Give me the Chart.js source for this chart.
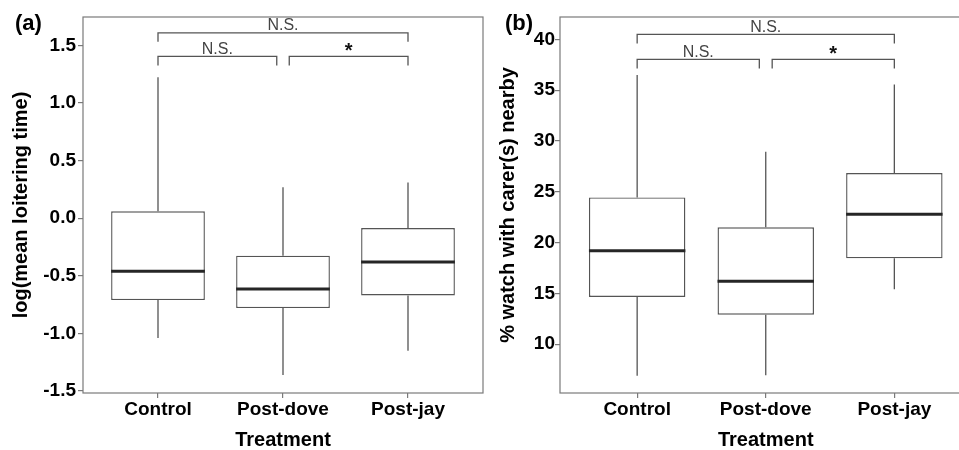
<!DOCTYPE html>
<html lang="en">
<head>
<meta charset="UTF-8">
<title>Loitering time and carer presence by treatment</title>
<script src="https://cdn.jsdelivr.net/npm/chart.js"></script>
<style>
    html, body { margin: 0; padding: 0; background: #fff; overflow: hidden; }
    body { width: 959px; height: 450px; position: relative; }
    #wrapA { position: absolute; left: 0; top: 0; width: 490px; height: 450px; }
    #wrapB { position: absolute; left: 479px; top: 0; width: 500px; height: 450px; }
</style>
</head>
<body>
<div id="wrapA"><canvas id="chartA"></canvas></div>
<div id="wrapB"><canvas id="chartB"></canvas></div>

<script>
    const treatments = ['Control', 'Post-dove', 'Post-jay'];

    // (a) log(mean loitering time)
    const loiterLow = [-1.04, -1.36, -1.15];
    const loiterQ1 = [-0.71, -0.78, -0.67];
    const loiterMedian = [-0.46, -0.615, -0.38];
    const loiterQ3 = [0.06, -0.325, -0.085];
    const loiterHigh = [1.225, 0.27, 0.31];
    const loiterTicks = [-1.5, -1.0, -0.5, 0.0, 0.5, 1.0, 1.5];

    // (b) % watch with carer(s) nearby
    const carerLow = [6.9, 6.95, 15.4];
    const carerQ1 = [14.65, 12.9, 18.45];
    const carerMedian = [19.2, 16.2, 22.8];
    const carerQ3 = [24.45, 21.5, 26.85];
    const carerHigh = [36.5, 28.95, 35.55];
    const carerTicks = [10, 15, 20, 25, 30, 35, 40];

    // pairwise tests: from, to, label
    const comparisons = [[0, 2, 'N.S.'], [0, 1, 'N.S.'], [1, 2, '*']];

    const FONT = "'Liberation Sans', Arial, sans-serif";
    const LINE = '#555555';

    const boxExtras = {
        id: 'boxExtras',
        beforeDatasetsDraw(chart) {
            const o = chart.options.plugins.boxExtras;
            const { ctx } = chart;
            const xs = chart.scales.x, ys = chart.scales.y;
            ctx.save();
            ctx.strokeStyle = LINE;
            ctx.lineWidth = 1.3;
            o.low.forEach((lo, i) => {
                const x = xs.getPixelForValue(i + 1);
                ctx.beginPath();
                ctx.moveTo(x, ys.getPixelForValue(o.high[i]));
                ctx.lineTo(x, ys.getPixelForValue(o.q3[i]));
                ctx.moveTo(x, ys.getPixelForValue(o.q1[i]));
                ctx.lineTo(x, ys.getPixelForValue(lo));
                ctx.stroke();
            });
            ctx.restore();
        },
        afterDatasetsDraw(chart) {
            const o = chart.options.plugins.boxExtras;
            const { ctx } = chart;
            const ys = chart.scales.y;
            const bars = chart.getDatasetMeta(0).data;
            ctx.save();
            ctx.strokeStyle = '#262626';
            ctx.lineWidth = 3;
            o.median.forEach((m, i) => {
                const b = bars[i];
                const y = ys.getPixelForValue(m);
                ctx.beginPath();
                ctx.moveTo(b.x - b.width / 2, y);
                ctx.lineTo(b.x + b.width / 2, y);
                ctx.stroke();
            });
            ctx.restore();
        },
        afterDraw(chart) {
            const o = chart.options.plugins.boxExtras;
            const { ctx, chartArea: a } = chart;
            const xs = chart.scales.x, ys = chart.scales.y;
            ctx.save();
            // panel frame
            ctx.strokeStyle = '#7a7a7a';
            ctx.lineWidth = 1.2;
            ctx.strokeRect(a.left, a.top, a.right - a.left, a.bottom - a.top);

            // significance brackets
            ctx.strokeStyle = LINE;
            ctx.lineWidth = 1.3;
            comparisons.forEach(([from, to, label], k) => {
                const gap = (to - from === 1) ? 0.05 : 0;
                const x1 = xs.getPixelForValue(from + 1 + (from === 1 ? gap : 0));
                const x2 = xs.getPixelForValue(to + 1 - (to === 1 ? gap : 0));
                const y = ys.getPixelForValue(o.bracketLevel[k]);
                const tip = 9;
                ctx.beginPath();
                ctx.moveTo(x1, y + tip);
                ctx.lineTo(x1, y);
                ctx.lineTo(x2, y);
                ctx.lineTo(x2, y + tip);
                ctx.stroke();
                ctx.textAlign = 'center';
                ctx.textBaseline = 'alphabetic';
                if (label === '*') {
                    ctx.fillStyle = '#111';
                    ctx.font = 'bold 20px ' + FONT;
                    ctx.fillText(label, (x1 + x2) / 2, y + 1);
                } else {
                    ctx.fillStyle = '#444';
                    ctx.font = '16px ' + FONT;
                    ctx.fillText(label, (x1 + x2) / 2, y - 2.5);
                }
            });

            // panel tag
            ctx.fillStyle = '#000';
            ctx.font = 'bold 22px ' + FONT;
            ctx.textAlign = 'left';
            ctx.textBaseline = 'middle';
            ctx.fillText(o.tag, o.tagX, 24);
            ctx.restore();
        }
    };

    function buildPanel(canvasId, p) {
        return new Chart(document.getElementById(canvasId), {
            type: 'bar',
            data: {
                datasets: [{
                    data: p.q1.map((q, i) => ({ x: i + 1, y: [q, p.q3[i]] })),
                    backgroundColor: '#ffffff',
                    borderColor: LINE,
                    borderWidth: 1.4,
                    borderSkipped: false,
                    barPercentage: 0.75,
                    categoryPercentage: 1
                }]
            },
            options: {
                responsive: true,
                maintainAspectRatio: false,
                animation: false,
                layout: { padding: { top: 17, right: p.padRight, left: 0, bottom: 0 } },
                plugins: {
                    legend: { display: false },
                    tooltip: { enabled: false },
                    boxExtras: {
                        low: p.low, q1: p.q1, median: p.median, q3: p.q3, high: p.high,
                        bracketLevel: p.bracketLevel, tag: p.tag, tagX: p.tagX
                    }
                },
                scales: {
                    x: {
                        type: 'linear',
                        min: 0.4,
                        max: 3.6,
                        offset: false,
                        afterBuildTicks: s => { s.ticks = treatments.map((t, i) => ({ value: i + 1 })); },
                        afterFit: s => { s.height = 57; },
                        ticks: {
                            callback: v => treatments[v - 1],
                            color: '#000',
                            padding: 0,
                            font: { family: FONT, size: 19, weight: 'bold' }
                        },
                        grid: { offset: false, drawOnChartArea: false, tickLength: 5, color: '#7a7a7a', lineWidth: 1.2 },
                        border: { display: false },
                        title: {
                            display: true,
                            text: 'Treatment',
                            color: '#000',
                            padding: { top: 0, bottom: 0 },
                            font: { family: FONT, size: 20, weight: 'bold', lineHeight: 1 }
                        }
                    },
                    y: {
                        min: p.yMin,
                        max: p.yMax,
                        afterBuildTicks: s => { s.ticks = p.ticks.map(v => ({ value: v })); },
                        afterFit: s => { s.width = p.yWidth; },
                        ticks: {
                            callback: p.fmt,
                            color: '#000',
                            padding: p.tickPad,
                            font: { family: FONT, size: 19, weight: 'bold' }
                        },
                        grid: { drawOnChartArea: false, tickLength: 5, color: '#7a7a7a', lineWidth: 1.2 },
                        border: { display: false },
                        title: {
                            display: true,
                            text: p.yTitle,
                            color: '#000',
                            padding: { top: p.titlePad, bottom: 0 },
                            font: { family: FONT, size: 20, weight: 'bold' }
                        }
                    }
                }
            },
            plugins: [boxExtras]
        });
    }

    buildPanel('chartA', {
        low: loiterLow, q1: loiterQ1, median: loiterMedian, q3: loiterQ3, high: loiterHigh,
        ticks: loiterTicks, fmt: v => v.toFixed(1),
        yMin: -1.517, yMax: 1.747,
        bracketLevel: [1.61, 1.405, 1.405],
        yTitle: 'log(mean loitering time)',
        tag: '(a)', tagX: 15,
        yWidth: 83, padRight: 7, tickPad: 2, titlePad: 9.5
    });

    buildPanel('chartB', {
        low: carerLow, q1: carerQ1, median: carerMedian, q3: carerQ3, high: carerHigh,
        ticks: carerTicks, fmt: v => String(v),
        yMin: 5.2, yMax: 42.2,
        bracketLevel: [40.49, 38.03, 38.03],
        yTitle: '% watch with carer(s) nearby',
        tag: '(b)', tagX: 26,
        yWidth: 81, padRight: 7.5, tickPad: 0, titlePad: 17.5
    });
</script>
</body>
</html>
